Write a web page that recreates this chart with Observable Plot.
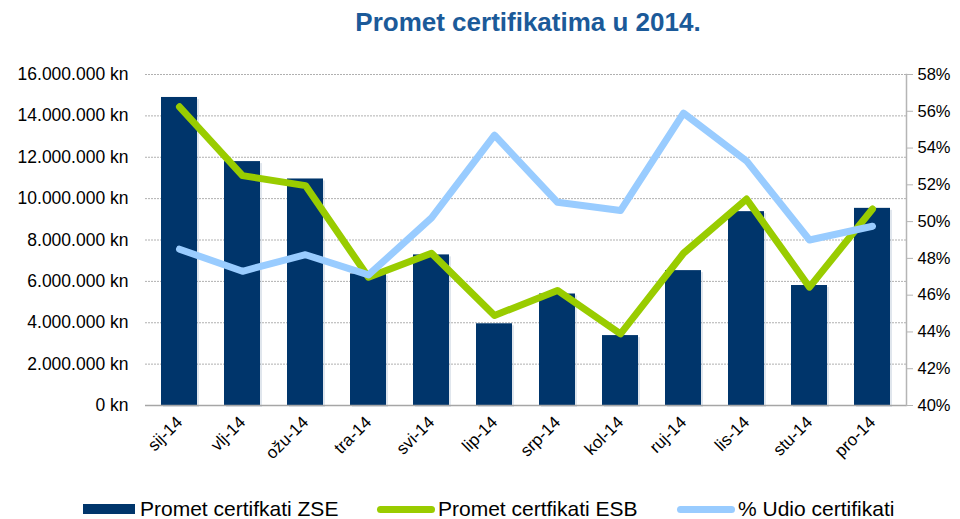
<!DOCTYPE html>
<html>
<head>
<meta charset="utf-8">
<script src="https://cdn.jsdelivr.net/npm/d3@7"></script>
<script src="https://cdn.jsdelivr.net/npm/@observablehq/plot@0.6"></script>
<style>
  html, body { margin: 0; padding: 0; background: #fff; }
  body { width: 960px; height: 519px; position: relative; overflow: hidden; font-family: "Liberation Sans", Arial, sans-serif; }
  #title { position: absolute; left: 96px; top: 0; width: 864px; height: 44px; line-height: 45px; text-align: center; font-weight: bold; font-size: 26px; color: #1B5A99; }
  #chart { position: absolute; left: 0; top: 44px; }
  #legend { position: absolute; left: 0; top: 497px; width: 960px; height: 24px; font-size: 21px; color: #000; }
  .item { position: absolute; top: 0; height: 24px; display: flex; align-items: center; white-space: nowrap; }
  .sw { display: inline-block; margin-right: 4px; }
</style>
</head>
<body>
<div id="title">Promet certifikatima u 2014.</div>
<div id="chart"></div>
<div id="legend"></div>
<script>
const months = ["sij-14","vlj-14","ožu-14","tra-14","svi-14","lip-14","srp-14","kol-14","ruj-14","lis-14","stu-14","pro-14"];
const prometZSE = [14890000, 11790000, 10950000, 6360000, 7280000, 3950000, 5390000, 3380000, 6520000, 9370000, 5800000, 9530000];
const prometESB = [14440000, 11110000, 10630000, 6200000, 7360000, 4350000, 5560000, 3460000, 7360000, 9980000, 5720000, 9500000];
const udioPct = [48.5, 47.3, 48.2, 47.1, 50.2, 54.7, 51.05, 50.6, 55.9, 53.3, 49.0, 49.75];
const leftTicks = [0, 2000000, 4000000, 6000000, 8000000, 10000000, 12000000, 14000000, 16000000];
const rightTicks = [40, 42, 44, 46, 48, 50, 52, 54, 56, 58];
const seriesNames = ["Promet certifkati ZSE", "Promet certfikati ESB", "% Udio certifikati"];
const seriesColors = ["#00356B", "#99CC00", "#99CCFF"];

const leftMax = 16000000, rightMin = 40, rightMax = 58;
const toLeft = p => (p - rightMin) / (rightMax - rightMin) * leftMax;
const fromLeft = v => rightMin + v / leftMax * (rightMax - rightMin);
const fmtKn = d => d3.format(",")(d).replace(/,/g, ".") + " kn";

const data = months.map((m, i) => ({m, zse: prometZSE[i], esb: prometESB[i], udio: udioPct[i]}));

const chart = Plot.plot({
  width: 960,
  height: 440,
  marginTop: 30,
  marginBottom: 79,
  marginLeft: 145,
  marginRight: 54,
  style: {fontFamily: "'Liberation Sans', Arial, sans-serif", fontSize: "16px", color: "#000", background: "transparent"},
  x: {type: "band", domain: months, paddingInner: 0.43, paddingOuter: 0.215, label: null},
  y: {domain: [0, leftMax], label: null},
  marks: [
    Plot.gridY(leftTicks, {stroke: "#b0b0b0", strokeOpacity: 1, strokeDasharray: "2,1", strokeWidth: 1}),
    Plot.barY(data, {x: "m", y: "zse", fill: seriesColors[0], dx: 2, dy: 2, fillOpacity: 0.12}),
    Plot.barY(data, {x: "m", y: "zse", fill: seriesColors[0]}),
    Plot.ruleY([0], {stroke: "#a6a6a6", strokeWidth: 1.5}),
    Plot.frame({anchor: "right", stroke: "#b5b5b5", strokeWidth: 1.5}),
    Plot.line(data, {x: "m", y: "esb", stroke: seriesColors[1], strokeWidth: 7, strokeLinecap: "round", strokeLinejoin: "round"}),
    Plot.line(data, {x: "m", y: d => toLeft(d.udio), stroke: seriesColors[2], strokeWidth: 7, strokeLinecap: "round", strokeLinejoin: "round"}),
    Plot.axisY(leftTicks, {anchor: "left", tickSize: 0, tickPadding: 17, tickFormat: fmtKn, label: null, fontSize: 17.5}),
    Plot.axisY(rightTicks.map(toLeft), {anchor: "right", tickSize: 6, tickPadding: 5, stroke: "#b5b5b5", tickFormat: v => Math.round(fromLeft(v)) + "%", label: null, fontSize: 16.5}),
    Plot.axisX({anchor: "bottom", tickSize: 0, tickPadding: 14, tickRotate: -45, label: null, fontSize: 17})
  ]
});
document.getElementById("chart").appendChild(chart);

// legend
const legend = document.getElementById("legend");
const lefts = [83, 377, 677];
seriesNames.forEach((name, i) => {
  const item = document.createElement("div");
  item.className = "item";
  item.style.left = lefts[i] + "px";
  const sw = document.createElement("span");
  sw.className = "sw";
  if (i === 0) {
    sw.style.width = "52px"; sw.style.height = "10px"; sw.style.background = seriesColors[i];
    sw.style.marginRight = "5px";
  } else {
    sw.style.width = "58px"; sw.style.height = "7px"; sw.style.borderRadius = "4px"; sw.style.background = seriesColors[i];
    sw.style.marginRight = "3px";
  }
  item.appendChild(sw);
  const t = document.createElement("span");
  t.textContent = name;
  item.appendChild(t);
  legend.appendChild(item);
});
</script>
</body>
</html>
